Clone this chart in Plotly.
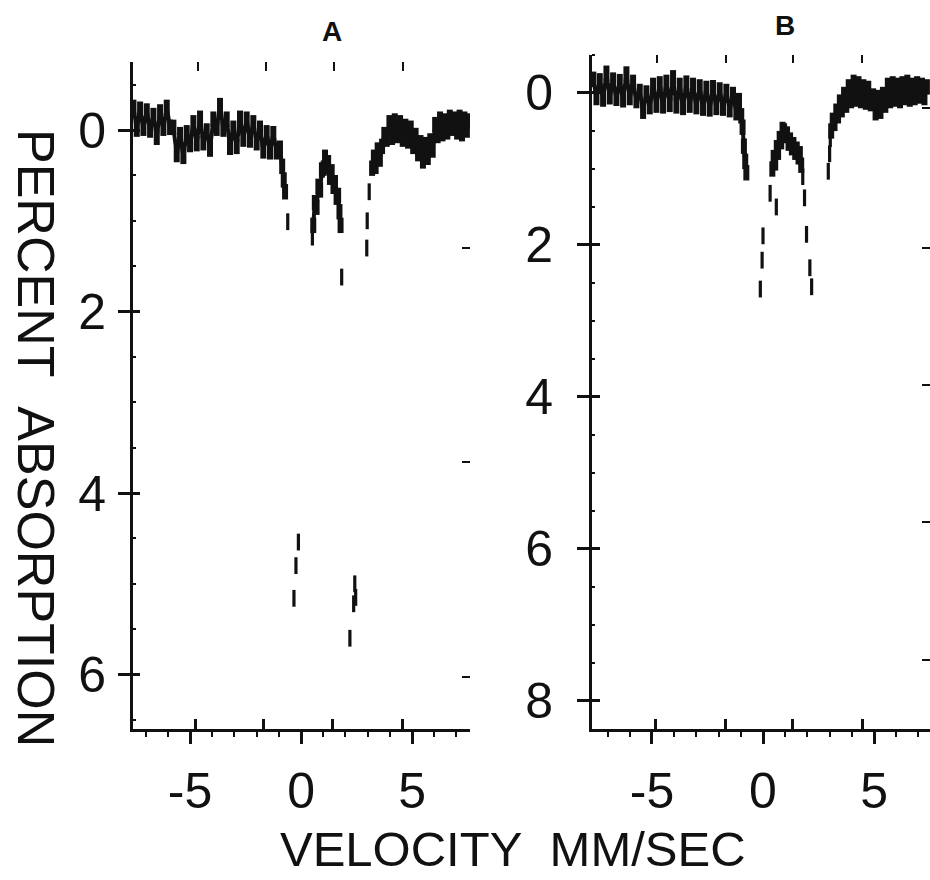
import plotly.graph_objects as go

# ---------------- Panel A data ----------------
vel_A_left = [-7.55, -7.40, -7.25, -7.10, -6.95, -6.80, -6.65, -6.50, -6.35, -6.20, -6.05, -5.90,
              -5.75, -5.60, -5.45, -5.30, -5.15, -5.00, -4.85, -4.70, -4.55, -4.40, -4.25, -4.10,
              -3.95, -3.80, -3.65, -3.50, -3.35, -3.20, -3.05, -2.90, -2.75, -2.60, -2.45, -2.30,
              -2.15, -2.00, -1.85, -1.70, -1.55, -1.40, -1.25, -1.10, -0.95, -0.85, -0.78, -0.72]
abs_A_left = [-0.25, -0.01, -0.23, -0.02, -0.21, 0.00, -0.16, 0.08, -0.20, -0.02, -0.25, -0.03,
              -0.03, 0.27, 0.05, 0.29, 0.03, 0.16, -0.08, 0.15, -0.13, 0.14, 0.01, 0.21,
              -0.12, -0.02, -0.27, -0.01, -0.12, 0.19, -0.02, 0.18, -0.13, 0.10, -0.12, 0.11,
              -0.08, 0.14, -0.02, 0.23, 0.03, 0.24, 0.04, 0.24, 0.20, 0.40, 0.55, 0.68]

vel_A_mid = [0.55, 0.62, 0.70, 0.78, 0.86, 0.94, 1.02, 1.08, 1.15, 1.22, 1.30, 1.38,
             1.46, 1.53, 1.60, 1.67, 1.73, 1.78]
abs_A_mid = [1.05, 0.80, 0.85, 0.62, 0.66, 0.44, 0.42, 0.30, 0.40, 0.36, 0.52, 0.46,
             0.62, 0.58, 0.74, 0.72, 0.90, 1.05]

vel_A_right = [3.20, 3.28, 3.36, 3.45, 3.55, 3.65, 3.75, 3.86, 3.98, 4.10, 4.22, 4.34,
               4.46, 4.58, 4.70, 4.82, 4.94, 5.05, 5.16, 5.27, 5.38, 5.49, 5.60, 5.71,
               5.82, 5.93, 6.04, 6.15, 6.26, 6.37, 6.48, 6.59, 6.70, 6.81, 6.92, 7.03,
               7.14, 7.25, 7.36, 7.47, 7.57]
abs_A_right = [0.42, 0.30, 0.40, 0.22, 0.32, 0.18, 0.05, 0.10, -0.08, 0.08, -0.10, 0.06,
               -0.08, 0.10, -0.04, 0.12, -0.02, 0.18, 0.06, 0.26, 0.14, 0.34, 0.16, 0.30,
               0.12, 0.22, -0.06, 0.06, -0.12, 0.04, -0.10, 0.02, -0.14, -0.02, -0.12, 0.02,
               -0.14, 0.04, -0.12, 0.00, -0.10]

# isolated points inside the absorption lines
vel_A_sparse = [-0.60, -0.32, -0.23, -0.12, 0.51, 1.83, 2.20, 2.37, 2.42, 2.46, 2.96, 2.98, 3.07]
abs_A_sparse = [1.01, 5.16, 4.80, 4.54, 1.18, 1.62, 5.60, 5.22, 5.00, 5.15, 1.30, 1.00, 0.68]

cal_A_bottom = [-4.77, -1.71, 1.40, 4.55, 7.61]
cal_A_top = [-4.64, -1.58, 1.49, 4.59]
right_marks_A = [1.30, 3.66, 6.03]

# ---------------- Panel B data ----------------
vel_B_left = [-7.64, -7.50, -7.35, -7.20, -7.05, -6.90, -6.75, -6.60, -6.45, -6.30, -6.15, -6.00,
              -5.85, -5.70, -5.55, -5.40, -5.25, -5.10, -4.95, -4.80, -4.65, -4.50, -4.35, -4.20,
              -4.05, -3.90, -3.75, -3.60, -3.45, -3.30, -3.15, -3.00, -2.85, -2.70, -2.55, -2.40,
              -2.25, -2.10, -1.95, -1.80, -1.65, -1.50, -1.35, -1.20, -1.08, -0.98, -0.92, -0.86,
              -0.80, -0.75]
abs_B_left = [-0.18, 0.06, -0.16, 0.08, -0.26, 0.05, -0.17, 0.07, -0.15, 0.09, -0.25, 0.06,
              -0.14, 0.10, -0.02, 0.24, 0.00, 0.18, -0.10, 0.16, -0.12, 0.17, -0.14, 0.15,
              -0.20, 0.17, -0.10, 0.19, -0.13, 0.16, -0.10, 0.18, -0.08, 0.20, -0.06, 0.21,
              -0.07, 0.19, -0.04, 0.20, -0.02, 0.22, 0.02, 0.26, 0.10, 0.30, 0.45, 0.70,
              0.90, 1.05]

vel_B_mid = [0.42, 0.48, 0.55, 0.62, 0.68, 0.75, 0.82, 0.88, 0.95, 1.02, 1.08, 1.15,
             1.22, 1.30, 1.37, 1.45, 1.52, 1.60, 1.66, 1.72]
abs_B_mid = [1.00, 0.85, 0.92, 0.72, 0.78, 0.60, 0.64, 0.48, 0.50, 0.56, 0.54, 0.66,
             0.62, 0.72, 0.68, 0.78, 0.74, 0.84, 0.80, 0.95]

vel_B_right = [3.07, 3.14, 3.22, 3.30, 3.38, 3.46, 3.55, 3.65, 3.75, 3.86, 3.97, 4.08,
               4.19, 4.30, 4.41, 4.52, 4.63, 4.74, 4.85, 4.96, 5.07, 5.18, 5.29, 5.40,
               5.51, 5.62, 5.73, 5.84, 5.95, 6.06, 6.17, 6.28, 6.39, 6.50, 6.61, 6.72,
               6.83, 6.94, 7.05, 7.16, 7.27, 7.38]
abs_B_right = [0.50, 0.36, 0.40, 0.24, 0.30, 0.12, 0.22, 0.02, 0.16, -0.08, 0.10, -0.14,
               0.08, -0.12, 0.10, -0.08, 0.12, -0.06, 0.14, 0.04, 0.26, 0.06, 0.24, 0.02,
               0.16, -0.10, 0.10, -0.12, 0.08, -0.10, 0.10, -0.12, 0.06, -0.14, 0.08, -0.10,
               0.06, -0.12, 0.04, -0.10, 0.06, -0.08]

vel_B_sparse = [-0.12, -0.04, 0.00, 0.32, 0.60, 1.79, 1.87, 1.96, 2.11, 2.19, 2.94, 3.00, 3.03]
abs_B_sparse = [2.58, 2.20, 1.88, 1.32, 1.50, 1.10, 1.38, 1.86, 2.30, 2.55, 1.03, 0.80, 0.60]

cal_B_bottom = [-4.86, -1.71, 1.35, 4.46]
cal_B_top = [-4.77, -1.67, 1.35, 4.46]
right_marks_B = [0.20, 2.04, 3.84, 5.64, 7.46]

x_tick_vals = [-5, 0, 5]
x_tick_text = ["-5", "0", "5"]
y_tick_vals_A = [0, 2, 4, 6]
y_tick_vals_B = [0, 2, 4, 6, 8]

W, H = 930, 880
FONT = "Liberation Sans Narrow, Liberation Sans, Arial, sans-serif"
INK = "#111"

fig = go.Figure()


def join(*segs):
    xs, ys = [], []
    for i, (a, b) in enumerate(segs):
        if i:
            xs.append(None)
            ys.append(None)
        xs += a
        ys += b
    return xs, ys


xa, ya = join((vel_A_left, abs_A_left), (vel_A_mid, abs_A_mid), (vel_A_right, abs_A_right))
xb, yb = join((vel_B_left, abs_B_left), (vel_B_mid, abs_B_mid), (vel_B_right, abs_B_right))

line_style = dict(color=INK, width=4)
band_mk = dict(symbol="line-ns", size=11, line=dict(width=6, color=INK), color=INK)
mk = dict(symbol="line-ns", size=12, line=dict(width=3.2, color=INK), color=INK)

fig.add_trace(go.Scatter(x=xa, y=ya, mode="lines+markers", line=line_style, marker=band_mk,
                         xaxis="x", yaxis="y", connectgaps=False, hoverinfo="skip"))
fig.add_trace(go.Scatter(x=vel_A_sparse, y=abs_A_sparse, mode="markers", marker=mk,
                         xaxis="x", yaxis="y", hoverinfo="skip"))
fig.add_trace(go.Scatter(x=xb, y=yb, mode="lines+markers", line=line_style, marker=band_mk,
                         xaxis="x2", yaxis="y2", connectgaps=False, hoverinfo="skip"))
fig.add_trace(go.Scatter(x=vel_B_sparse, y=abs_B_sparse, mode="markers", marker=mk,
                         xaxis="x2", yaxis="y2", hoverinfo="skip"))

# geometry (pixels)
A_x0, A_x1, A_ytop, A_ybot = 133, 470, 62, 729
B_x0, B_x1, B_ytop, B_ybot = 592, 930, 55, 729
A_xr = [-7.57, 7.61]
A_yr = [6.6, -0.75]
B_xr = [-7.7, 7.52]
B_yr = [8.37, -0.5]


def px(x):
    return x / W


def py(y):
    return 1 - y / H


tickfont = dict(family=FONT, size=50, color=INK)

common_main_x = dict(showline=True, linewidth=3, linecolor=INK, ticks="outside", ticklen=12,
                     tickwidth=3, tickcolor=INK, tickvals=x_tick_vals, ticktext=x_tick_text,
                     tickfont=tickfont, showgrid=False, zeroline=False, ticklabelstandoff=4,
                     minor=dict(dtick=1, tick0=0, ticks="outside", ticklen=5, tickwidth=2,
                                tickcolor=INK, showgrid=False))
common_main_y = dict(showline=True, linewidth=3, linecolor=INK, ticks="outside", ticklen=12,
                     tickwidth=3, tickcolor=INK, tickfont=tickfont, showgrid=False,
                     zeroline=False,
                     minor=dict(dtick=0.5, tick0=0, ticks="inside", ticklen=3, tickwidth=2,
                                tickcolor=INK, showgrid=False))
overlay = dict(showline=False, showgrid=False, zeroline=False, showticklabels=False,
               ticks="inside", tickcolor=INK)

fig.update_layout(
    width=W, height=H, margin=dict(l=0, r=0, t=0, b=0),
    paper_bgcolor="white", plot_bgcolor="rgba(0,0,0,0)", showlegend=False,
    xaxis=dict(domain=[px(A_x0), px(A_x1)], range=A_xr, anchor="y", **common_main_x),
    yaxis=dict(domain=[py(A_ybot), py(A_ytop)], range=A_yr, anchor="x",
               tickvals=y_tick_vals_A, ticklabelstandoff=2, **common_main_y),
    xaxis2=dict(domain=[px(B_x0), px(B_x1)], range=B_xr, anchor="y2", **common_main_x),
    yaxis2=dict(domain=[py(B_ybot), py(B_ytop)], range=B_yr, anchor="x2",
                tickvals=y_tick_vals_B, ticklabelstandoff=14, **common_main_y),
    # calibration marks on the bottom axis (pointing up)
    xaxis3=dict(overlaying="x", anchor="y", side="bottom", range=A_xr, tickvals=cal_A_bottom,
                ticklen=10, tickwidth=2.5, **overlay),
    xaxis4=dict(overlaying="x2", anchor="y2", side="bottom", range=B_xr, tickvals=cal_B_bottom,
                ticklen=10, tickwidth=2.5, **overlay),
    # calibration marks along the top
    xaxis5=dict(overlaying="x", anchor="y", side="top", range=A_xr, tickvals=cal_A_top,
                ticklen=9, tickwidth=2, **overlay),
    xaxis6=dict(overlaying="x2", anchor="y2", side="top", range=B_xr, tickvals=cal_B_top,
                ticklen=8, tickwidth=2, **overlay),
    # inner half of the crossing major y ticks
    yaxis3=dict(overlaying="y", anchor="x", side="left", range=A_yr, tickvals=y_tick_vals_A,
                ticklen=7, tickwidth=3, **overlay),
    yaxis4=dict(overlaying="y2", anchor="x2", side="left", range=B_yr, tickvals=y_tick_vals_B,
                ticklen=8, tickwidth=3, **overlay),
    # small marks along the right edge
    yaxis5=dict(overlaying="y", anchor="x", side="right", range=A_yr, tickvals=right_marks_A,
                ticklen=8, tickwidth=2, **overlay),
    yaxis6=dict(overlaying="y2", anchor="x2", side="right", range=B_yr, tickvals=right_marks_B,
                ticklen=8, tickwidth=2, **overlay),
)

# empty traces so the overlay axes are drawn
for xa_, ya_ in [("x3", "y3"), ("x4", "y4"), ("x5", "y5"), ("x6", "y6")]:
    fig.add_trace(go.Scatter(x=[], y=[], xaxis=xa_, yaxis=ya_, hoverinfo="skip"))

fig.add_annotation(text="<b>A</b>", x=px(332), y=py(31), xref="paper", yref="paper",
                   xanchor="center", yanchor="middle", showarrow=False,
                   font=dict(family="Liberation Sans, Arial", size=28, color=INK))
fig.add_annotation(text="<b>B</b>", x=px(785), y=py(25), xref="paper", yref="paper",
                   xanchor="center", yanchor="middle", showarrow=False,
                   font=dict(family="Liberation Sans, Arial", size=28, color=INK))
fig.add_annotation(text="VELOCITY\u00a0\u00a0MM/SEC", x=px(513), y=py(849),
                   xref="paper", yref="paper", xanchor="center", yanchor="middle",
                   showarrow=False, font=dict(family=FONT, size=49, color=INK))
fig.add_annotation(text="PERCENT\u00a0\u00a0ABSORPTION", x=px(36), y=py(438), textangle=90,
                   xref="paper", yref="paper", xanchor="center", yanchor="middle",
                   showarrow=False, font=dict(family=FONT, size=52, color=INK))

fig.write_html("out.html", config={"displayModeBar": False},
               post_script="document.body.style.margin='0';")
